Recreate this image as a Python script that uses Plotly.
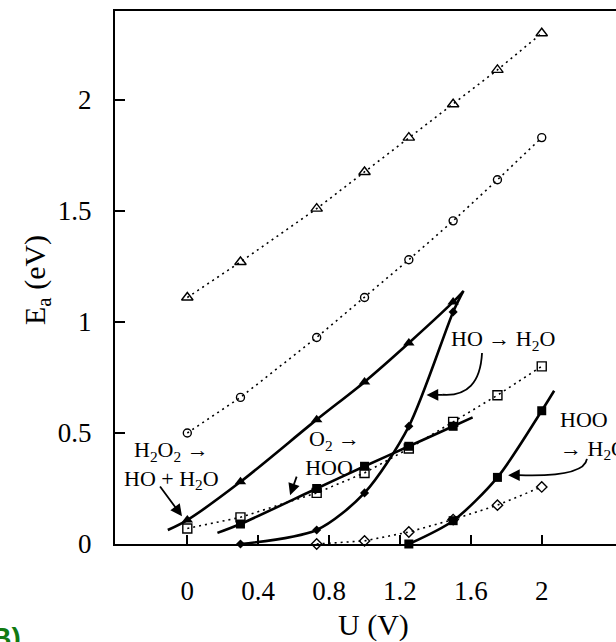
import plotly.graph_objects as go

# ---------------- data ----------------
U = [0.0, 0.3, 0.73, 1.0, 1.25, 1.5, 1.75, 2.0]

# dotted series (open markers)
tri_open_y = [1.11, 1.27, 1.51, 1.675, 1.83, 1.98, 2.135, 2.30]
circ_open_y = [0.50, 0.66, 0.93, 1.11, 1.28, 1.455, 1.64, 1.83]
sq_open_y = [0.07, 0.12, 0.23, 0.32, 0.43, 0.55, 0.67, 0.80]
dia_open_x = [0.73, 1.0, 1.25, 1.5, 1.75, 2.0]
dia_open_y = [0.0, 0.014, 0.054, 0.11, 0.175, 0.257]

# solid series (filled markers) – H2O2 -> HO + H2O
h2o2_x = [0.0, 0.3, 0.73, 1.0, 1.25, 1.5]
h2o2_y = [0.108, 0.28, 0.56, 0.73, 0.905, 1.09]
h2o2_fit_x = [-0.11, 0.0, 0.3, 0.73, 1.0, 1.25, 1.5, 1.56]
h2o2_fit_y = [0.063, 0.108, 0.28, 0.56, 0.73, 0.905, 1.09, 1.14]

# O2 -> HOO
o2_x = [0.3, 0.73, 1.0, 1.25, 1.5]
o2_y = [0.09, 0.25, 0.35, 0.44, 0.53]
o2_fit_x = [0.17, 0.3, 0.73, 1.0, 1.25, 1.5, 1.61]
o2_fit_y = [0.05, 0.09, 0.25, 0.35, 0.44, 0.53, 0.57]

# HO -> H2O
ho_x = [0.3, 0.73, 1.0, 1.25, 1.5]
ho_y = [0.0, 0.063, 0.23, 0.53, 1.045]
ho_fit_x = [0.3, 0.73, 1.0, 1.25, 1.5, 1.555]
ho_fit_y = [0.0, 0.063, 0.23, 0.53, 1.045, 1.135]

# HOO -> H2O
hoo_x = [1.25, 1.5, 1.75, 2.0]
hoo_y = [0.0, 0.105, 0.30, 0.60]
hoo_fit_x = [1.25, 1.5, 1.75, 2.0, 2.07]
hoo_fit_y = [0.0, 0.105, 0.30, 0.60, 0.69]

x_ticks = [0, 0.4, 0.8, 1.2, 1.6, 2]
x_tick_text = ["0", "0.4", "0.8", "1.2", "1.6", "2"]
y_ticks = [0, 0.5, 1, 1.5, 2]
y_tick_text = ["0", "0.5", "1", "1.5", "2"]

# ---------------- figure ----------------
SERIF = "Liberation Serif, Times New Roman, serif"
BLACK = "black"
DOT = "2px,4px"

fig = go.Figure()

def dotted(x, y, symbol, size):
    fig.add_trace(go.Scatter(
        x=x, y=y, mode="lines+markers",
        line=dict(color=BLACK, width=1.6, dash=DOT),
        marker=dict(symbol=symbol, size=size, color=BLACK,
                    line=dict(color=BLACK, width=1.4)),
        cliponaxis=False, showlegend=False))

def solid(fx, fy, x, y, symbol, size):
    fig.add_trace(go.Scatter(
        x=fx, y=fy, mode="lines",
        line=dict(color=BLACK, width=2.6, shape="spline", smoothing=0.8),
        cliponaxis=True, showlegend=False))
    fig.add_trace(go.Scatter(
        x=x, y=y, mode="markers",
        marker=dict(symbol=symbol, size=size, color=BLACK,
                    line=dict(color=BLACK, width=0)),
        cliponaxis=False, showlegend=False))

dotted(U, tri_open_y, "triangle-up-open", 10)
dotted(U, circ_open_y, "circle-open", 8)
dotted(U, sq_open_y, "square-open", 9)
dotted(dia_open_x, dia_open_y, "diamond-open", 8)

solid(h2o2_fit_x, h2o2_fit_y, h2o2_x, h2o2_y, "triangle-up", 10)
solid(o2_fit_x, o2_fit_y, o2_x, o2_y, "square", 9)
solid(ho_fit_x, ho_fit_y, ho_x, ho_y, "diamond", 7)
solid(hoo_fit_x, hoo_fit_y, hoo_x, hoo_y, "square", 9)

ann_font = dict(family=SERIF, size=22, color=BLACK)

def label(text, x, y, xanchor="center", align="center"):
    fig.add_annotation(x=x, y=y, xref="x", yref="y", text=text, showarrow=False,
                       font=ann_font, xanchor=xanchor, yanchor="middle",
                       align=align, borderpad=0)

def arrow(x0, y0, x1, y1):
    fig.add_annotation(x=x1, y=y1, ax=x0, ay=y0, xref="x", yref="y",
                       axref="x", ayref="y", text="", showarrow=True,
                       arrowhead=2, arrowsize=1.3, arrowwidth=1.8,
                       arrowcolor=BLACK)

# H2O2 -> HO + H2O
label("H<sub>2</sub>O<sub>2</sub> \u2192<br>HO + H<sub>2</sub>O", -0.09, 0.355)
arrow(-0.16, 0.266, -0.03, 0.125)

# O2 -> HOO
label("&nbsp;&nbsp;O<sub>2</sub> \u2192<br>HOO", 0.80, 0.41)
arrow(0.62, 0.31, 0.58, 0.22)

# HO -> H2O (curved arrow)
label("HO \u2192 H<sub>2</sub>O", 1.78, 0.92)
fig.add_shape(type="path", xref="x", yref="y",
              path="M 1.663,0.86 Q 1.65,0.66 1.44,0.672",
              line=dict(color=BLACK, width=1.8))
arrow(1.45, 0.672, 1.35, 0.671)

# HOO -> H2O (curved arrow)
label("HOO<br>\u2192 H<sub>2</sub>O", 2.098, 0.49, xanchor="left", align="left")
fig.add_shape(type="path", xref="x", yref="y",
              path="M 2.255,0.383 Q 2.24,0.30 1.87,0.31",
              line=dict(color=BLACK, width=1.8))
arrow(1.88, 0.31, 1.81, 0.31)

# axis titles
title_font = dict(family=SERIF, size=30, color=BLACK)
fig.add_annotation(x=0.515, y=-0.152, xref="paper", yref="paper",
                   text="U (V)", showarrow=False, font=title_font,
                   xanchor="center", yanchor="middle")
fig.add_annotation(x=-0.156, y=0.495, xref="paper", yref="paper",
                   text="E<sub>a</sub> (eV)", showarrow=False, font=title_font,
                   textangle=-90, xanchor="center", yanchor="middle")

# panel letter (partly cut off)
fig.add_annotation(x=-0.184, y=-0.143, xref="paper", yref="paper",
                   text="<b>(B)</b>", showarrow=False,
                   font=dict(family="Liberation Sans, Arial, sans-serif",
                             size=28, color="#117a11"),
                   xanchor="right", yanchor="top")

tick_font = dict(family=SERIF, size=27, color=BLACK)
fig.update_layout(
    width=616, height=642,
    margin=dict(l=115, r=0, t=11, b=98),
    paper_bgcolor="white", plot_bgcolor="white",
    showlegend=False,
    xaxis=dict(range=[-0.408, 2.419], tickvals=x_ticks, ticktext=x_tick_text,
               ticks="inside", ticklen=9, tickwidth=1.5, tickcolor=BLACK,
               showline=True, linecolor=BLACK, linewidth=2, mirror=True,
               showgrid=False, zeroline=False, tickfont=tick_font,
               ticklabelstandoff=22),
    yaxis=dict(range=[0, 2.40], tickvals=y_ticks, ticktext=y_tick_text,
               ticks="inside", ticklen=10, tickwidth=1.5, tickcolor=BLACK,
               showline=True, linecolor=BLACK, linewidth=2, mirror=False,
               showgrid=False, zeroline=False, tickfont=tick_font,
               ticklabelstandoff=16),
)

fig.write_html("out.html")
